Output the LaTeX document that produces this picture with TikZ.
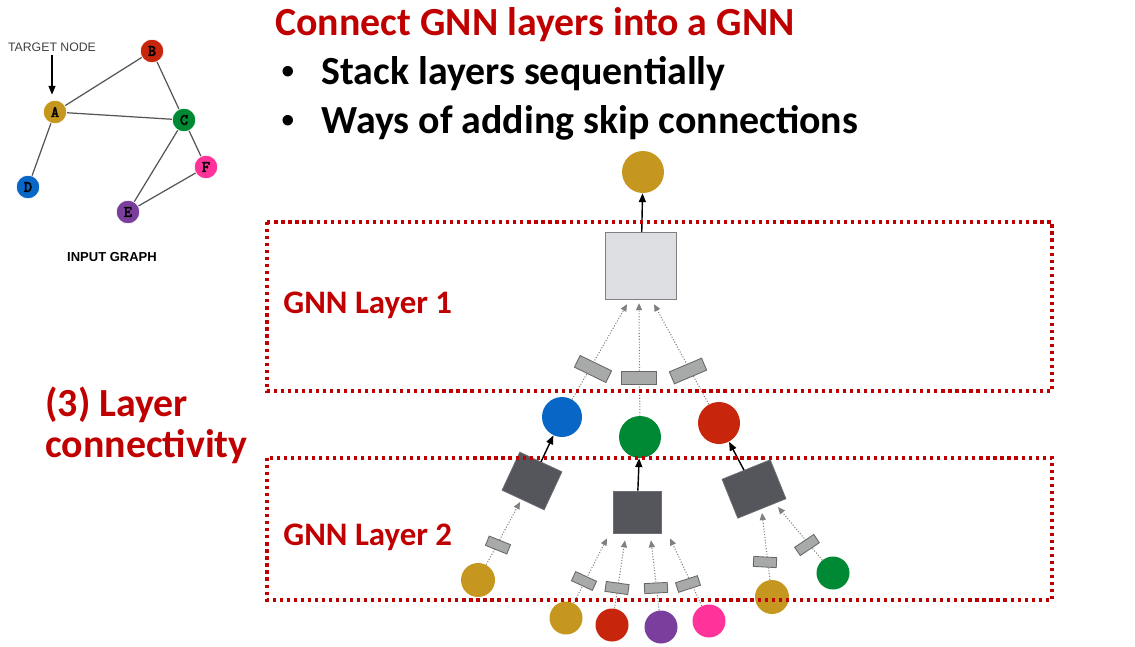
\documentclass[tikz,border=0pt]{standalone}
\usepackage{fontspec}
\setmainfont{Carlito}
\newfontfamily\helv{Liberation Sans}
\newfontfamily\cour[FakeBold=2.5]{Latin Modern Mono}
\usetikzlibrary{arrows.meta,positioning,calc}
\definecolor{slidered}{RGB}{192,0,0}
\definecolor{ngold}{RGB}{197,151,30}
\definecolor{nblue}{RGB}{8,102,198}
\definecolor{ngreen}{RGB}{0,137,52}
\definecolor{nred}{RGB}{200,38,12}
\definecolor{npurple}{RGB}{122,62,156}
\definecolor{npink}{RGB}{255,51,153}
\definecolor{aggdark}{RGB}{84,86,91}
\definecolor{agglight}{RGB}{221,222,226}
\definecolor{msgfill}{RGB}{168,170,170}
\definecolor{msgedge}{RGB}{105,105,105}
\definecolor{linkgray}{RGB}{85,85,85}

\begin{document}
\begin{tikzpicture}[x=0.02cm,y=-0.02cm,
  gnode/.style={circle,fill=#1,draw=white,inner sep=0pt,minimum size=0.47cm,
                font=\cour\bfseries\fontsize{9}{9}\selectfont},
  emb/.style={circle,fill=#1,inner sep=0pt,minimum size=0.84cm},
  leaf/.style={circle,fill=#1,inner sep=0pt,minimum size=0.66cm},
  agg/.style={draw=aggdark!85,fill=aggdark,inner sep=0pt,
              minimum width=0.96cm,minimum height=0.84cm},
  msg/.style={draw=msgedge,fill=msgfill,line width=0.5pt,inner sep=0pt,
              minimum width=0.7cm,minimum height=0.26cm},
  smsg/.style={msg,minimum width=0.46cm,minimum height=0.2cm},
  link/.style={draw=linkgray,line width=0.7pt},
  arr/.style={-{Triangle[length=5pt,width=4pt]},line width=0.8pt},
  dotarr/.style={densely dotted,draw=gray,line width=0.6pt,
                 -{Triangle[length=4pt,width=3.5pt]}},
  layerbox/.style={draw=slidered,line width=1.8pt,dash pattern=on 1.8pt off 2.2pt},
  txt/.style={inner sep=0pt,anchor=base west},
  head/.style={txt,font=\bfseries\fontsize{22.7}{26}\selectfont},
  bullet/.style={txt,font=\helv\fontsize{22}{26}\selectfont}]
  \useasboundingbox (0,0) rectangle (1135,646);

  % input graph
  \node[gnode=nred]    (nB) at (152,51)  {B};
  \node[gnode=ngold]   (nA) at (55,112)  {A};
  \node[gnode=ngreen]  (nC) at (184,120) {C};
  \node[gnode=npink]   (nF) at (206,167) {F};
  \node[gnode=nblue]   (nD) at (28,187)  {D};
  \node[gnode=npurple] (nE) at (128,212) {E};
  \draw[link] (nA) -- (nB);
  \draw[link] (nA) -- (nC);
  \draw[link] (nB) -- (nC);
  \draw[link] (nA) -- (nD);
  \draw[link] (nC) -- (nE);
  \draw[link] (nC) -- (nF);
  \draw[link] (nE) -- (nF);
  \node[txt,anchor=base,text=black!75,font=\helv\fontsize{7}{8}\selectfont]
    (target) at (52,51) {TARGET NODE};
  \node[inner sep=0pt,font=\helv\bfseries\fontsize{7.4}{8}\selectfont]
    (ingraph) at (112,257) {INPUT GRAPH};
  \draw[arr,line width=0.7pt,shorten <=2pt,shorten >=3pt]
    (target.south) -- (target.south |- nA.north);

  % headings
  \node[head,text=slidered] (title) at (275,35) {Connect GNN layers into a GNN};
  \node[bullet] (bul1) at (281,84)  {•};
  \node[head] (item1) at (321,84)  {Stack layers sequentially};
  \node[bullet] (bul2) at (281,133) {•};
  \node[head] (item2) at (321,133) {Ways of adding skip connections};
  \node[head,text=slidered] (lc1) at (45,416) {(3) Layer};
  \node[head,text=slidered] (lc2) at (45,457) {connectivity};
  \node[txt,text=slidered,font=\bfseries\fontsize{18.7}{22}\selectfont]
    (lay1) at (283,313) {GNN Layer 1};
  \node[txt,text=slidered,font=\bfseries\fontsize{18.7}{22}\selectfont]
    (lay2) at (283,545) {GNN Layer 2};

  % layer 1
  \node[emb=ngold] (out) at (643,172) {};
  \node[draw=gray,line width=0.8pt,fill=agglight,inner sep=0pt,
        minimum width=1.42cm,minimum height=1.34cm] (sq1) at (641,266) {};
  \node[emb=nblue,minimum size=0.8cm] (hB) at (562,417) {};
  \node[emb=ngreen] (hG) at (640,437) {};
  \node[emb=nred]   (hR) at (719,423) {};
  \draw[arr] (sq1) -- (out);
  \draw[dotarr] (hB) -- ($(sq1.south)+(-14,4)$);
  \draw[dotarr] (hG) -- ($(sq1.south)+(-2,3)$);
  \draw[dotarr] (hR) -- ($(sq1.south)+(13,4)$);
  \node[msg,rotate=-26] (m1a) at (593,369) {};
  \node[msg]            (m1b) at (639,378) {};
  \node[msg,rotate=23]  (m1c) at (688,371) {};

  % layer 2
  \node[agg,minimum width=0.93cm,rotate=-25] (sqA) at (532,481) {};
  \node[agg]                                  (sqB) at (637,512) {};
  \node[agg,minimum width=1.04cm,rotate=22]  (sqC) at (754,489) {};
  \draw[arr] (sqA) -- (hB);
  \draw[arr] (sqB) -- (hG);
  \draw[arr] (sqC) -- (hR);

  \node[leaf=ngold,minimum size=0.68cm] (xA)  at (478,580) {};
  \node[leaf=ngold]    (xB1) at (566,618) {};
  \node[leaf=nred]     (xB2) at (612,625) {};
  \node[leaf=npurple]  (xB3) at (661,627) {};
  \node[leaf=npink]    (xB4) at (709,621) {};
  \node[leaf=ngold,minimum size=0.68cm] (xC1) at (772,597) {};
  \node[leaf=ngreen]   (xC2) at (833,573) {};

  \draw[dotarr] (xA)  -- ($(sqA)+(-12,21)$);
  \draw[dotarr] (xB1) -- ($(sqB.south)+(-30,5)$);
  \draw[dotarr] (xB2) -- ($(sqB.south)+(-12,7)$);
  \draw[dotarr] (xB3) -- ($(sqB.south)+(14,7)$);
  \draw[dotarr] (xB4) -- ($(sqB.south)+(33,5)$);
  \draw[dotarr] (xC1) -- ($(sqC)+(8,24)$);
  \draw[dotarr] (xC2) -- ($(sqC)+(24,18)$);

  \node[smsg,rotate=-22] (m2a)  at (498,545) {};
  \node[smsg,rotate=-25] (m2b1) at (584,581) {};
  \node[smsg,rotate=-8]  (m2b2) at (617,588) {};
  \node[smsg,rotate=3]   (m2b3) at (656,588) {};
  \node[smsg,rotate=18]  (m2b4) at (688,584) {};
  \node[smsg,rotate=-3]  (m2c1) at (765,562) {};
  \node[smsg,rotate=34]  (m2c2) at (807,545) {};

  % layer frames
  \draw[layerbox] (267,222) rectangle (1052,391);
  \draw[layerbox] (267,458) rectangle (1052,600);
\end{tikzpicture}
\end{document}
